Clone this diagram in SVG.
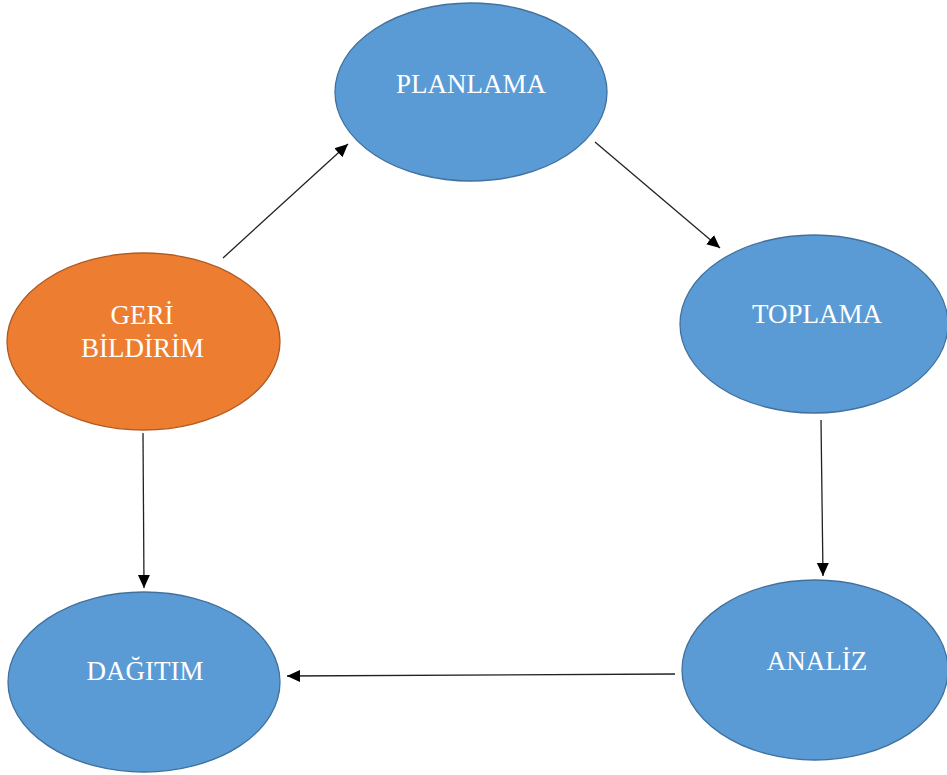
<svg xmlns="http://www.w3.org/2000/svg" width="947" height="775" viewBox="0 0 947 775">
  <style>
    .blue { fill: #5B9BD5; stroke: #41719C; stroke-width: 1.3; }
    .orange { fill: #ED7D31; stroke: #AE5A21; stroke-width: 1.3; }
    .label { fill: #FFFFFF; font-family: "Liberation Serif", "Times New Roman", serif; font-size: 27px; text-anchor: middle; }
    .link { stroke: #222222; stroke-width: 1.3; fill: none; marker-end: url(#head); }
  </style>
  <defs>
    <marker id="head" markerUnits="userSpaceOnUse" markerWidth="14" markerHeight="14" viewBox="0 0 14 14" refX="13" refY="7" orient="auto">
      <path d="M0,1 L13,7 L0,13 Z" fill="#000000"/>
    </marker>
  </defs>
  <rect width="947" height="775" fill="#FFFFFF"/>

  <g id="connectors">
    <line class="link" x1="223" y1="258" x2="348" y2="144"/>
    <line class="link" x1="595" y1="142" x2="720" y2="248"/>
    <line class="link" x1="821" y1="420" x2="823" y2="576"/>
    <line class="link" x1="675" y1="674" x2="287" y2="676"/>
    <line class="link" x1="143" y1="433" x2="144" y2="588"/>
  </g>

  <g id="planlama">
    <ellipse class="blue" cx="471" cy="92" rx="136" ry="89"/>
    <text class="label" x="471" y="93">PLANLAMA</text>
  </g>

  <g id="toplama">
    <ellipse class="blue" cx="814" cy="324" rx="134" ry="89"/>
    <text class="label" x="817" y="323">TOPLAMA</text>
  </g>

  <g id="analiz">
    <ellipse class="blue" cx="815" cy="670" rx="133" ry="90"/>
    <text class="label" x="817" y="670">ANALİZ</text>
  </g>

  <g id="dagitim">
    <ellipse class="blue" cx="144" cy="682" rx="136" ry="90"/>
    <text class="label" x="145" y="680">DAĞITIM</text>
  </g>

  <g id="geri-bildirim">
    <ellipse class="orange" cx="143.5" cy="341.5" rx="136.5" ry="88.5"/>
    <text class="label" x="142" y="324">GERİ</text>
    <text class="label" x="142.5" y="357">BİLDİRİM</text>
  </g>
</svg>
